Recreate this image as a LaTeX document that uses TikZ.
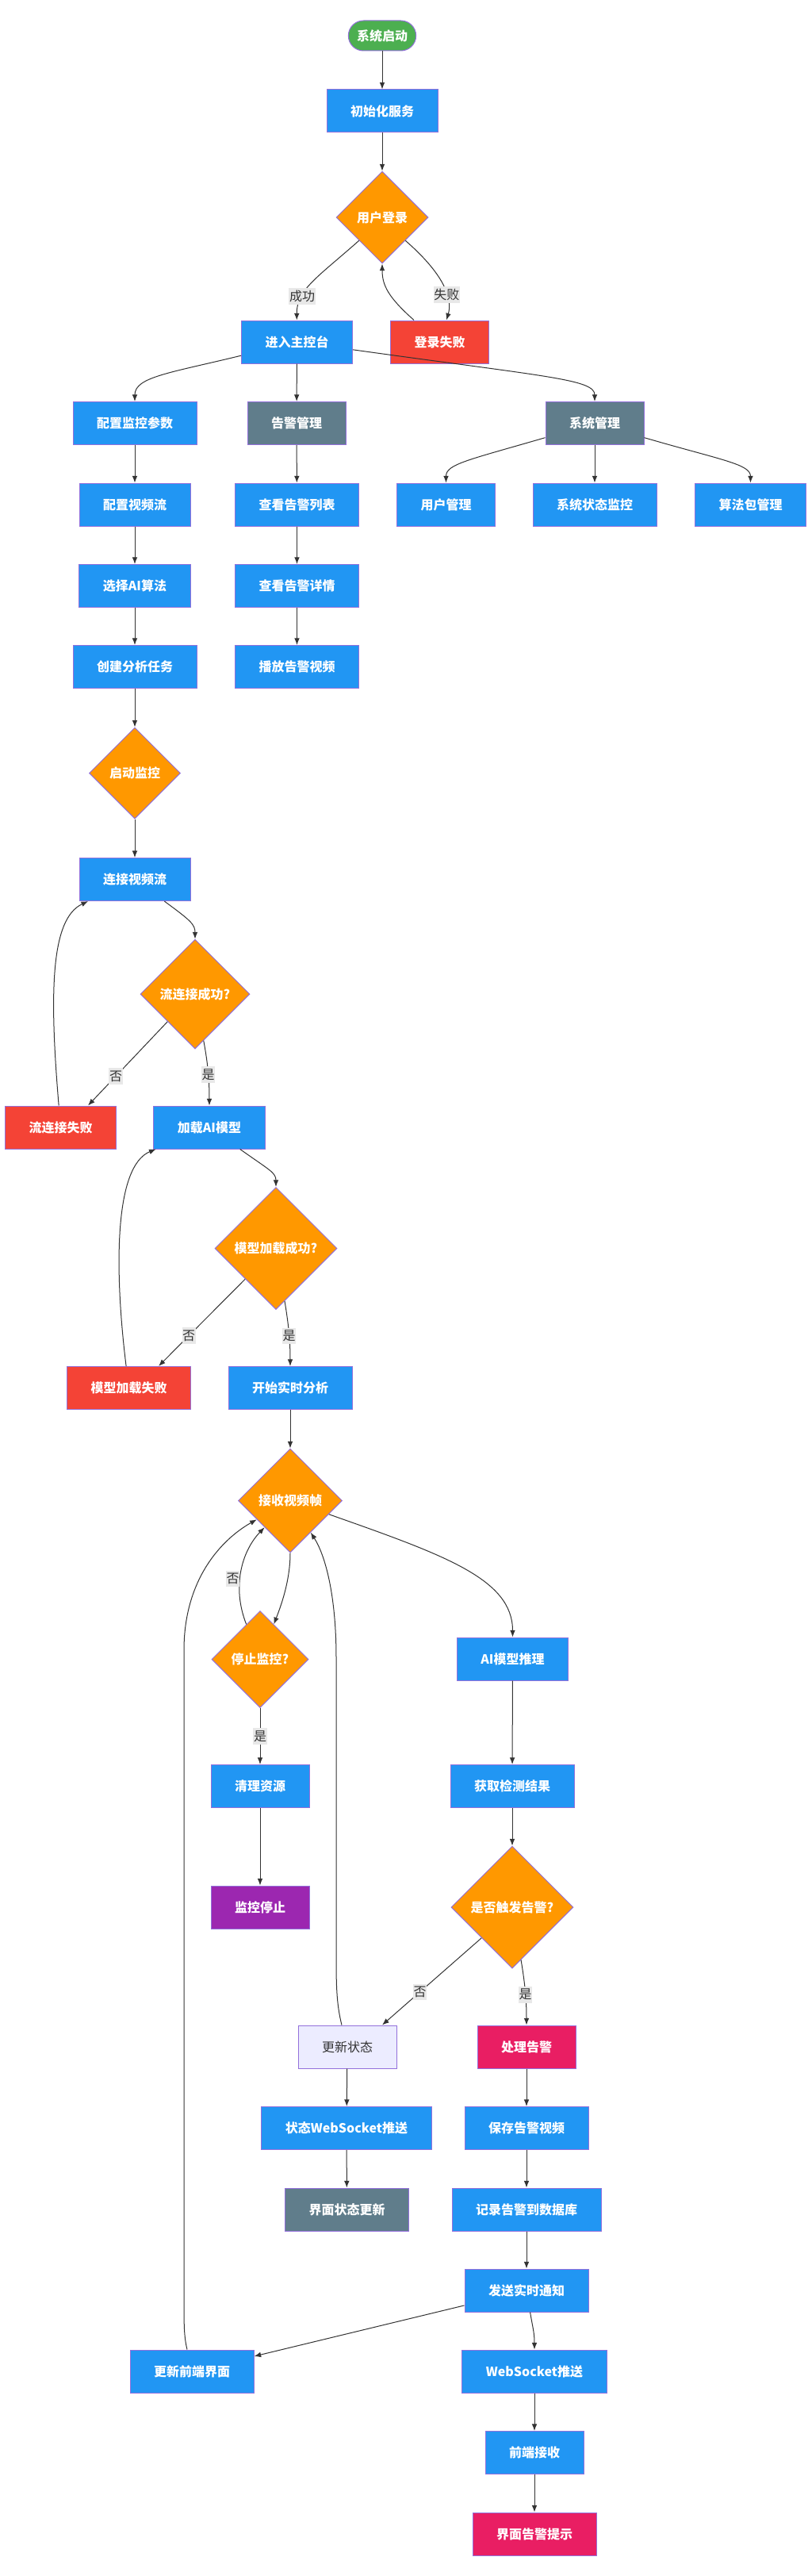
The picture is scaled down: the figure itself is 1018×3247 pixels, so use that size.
\documentclass[tikz,border=0pt]{standalone}
\usepackage{fontspec}
\setmainfont{Noto Sans CJK SC}
\usepackage{tikz}
\usetikzlibrary{calc}
\usetikzlibrary{shapes.geometric}
\usetikzlibrary{arrows.meta}

\definecolor{procblue}{HTML}{2196F3}
\definecolor{failred}{HTML}{F44336}
\definecolor{decorange}{HTML}{FF9800}
\definecolor{mgmtgray}{HTML}{607D8B}
\definecolor{startgreen}{HTML}{4CAF50}
\definecolor{stoppurple}{HTML}{9C27B0}
\definecolor{alertpink}{HTML}{E91E63}
\definecolor{statelav}{HTML}{ECECFF}
\definecolor{nodeborder}{HTML}{9370DB}
\definecolor{linkgray}{HTML}{333333}
\definecolor{labelbg}{HTML}{E8E8E8}

\tikzset{
    procbox/.style={rectangle, draw=nodeborder, line width=0.75pt, fill=procblue, text=white, minimum height=40.5pt, inner xsep=22.5pt, font=\fontsize{12pt}{14pt}\selectfont\bfseries},
    failbox/.style={procbox, fill=failred},
    mgmtbox/.style={procbox, fill=mgmtgray},
    alertbox/.style={procbox, fill=alertpink},
    stopbox/.style={procbox, fill=stoppurple},
    statebox/.style={procbox, fill=statelav, text=linkgray, font=\fontsize{12pt}{14pt}\selectfont},
    startbox/.style={procbox, fill=startgreen, rounded corners=14.25pt, minimum height=28.5pt, inner xsep=8pt},
    decision/.style={diamond, aspect=1, draw=nodeborder, line width=0.75pt, fill=decorange, text=white, inner sep=0pt, minimum size=#1, font=\fontsize{12pt}{14pt}\selectfont\bfseries},
    flow/.style={->, draw=linkgray, line width=0.75pt},
    edgelabel/.style={fill=labelbg, text=linkgray, inner xsep=0.5pt, inner ysep=2.5pt, font=\fontsize{12pt}{14pt}\selectfont},
}

\begin{document}
\begin{tikzpicture}[x=0.75pt, y=-0.75pt, >={Latex[length=6.5pt, width=5pt]}]
    \useasboundingbox (0,0) rectangle (1018,3247);

    % start and login
    \node [startbox] (start) at (482,45) {系统启动};
    \node [procbox] (init) at (482,140) {初始化服务};
    \node [decision=87pt] (login) at (482,274) {用户登录};
    \node [procbox] (main) at (374.5,431) {进入主控台};
    \node [failbox] (loginfail) at (554.5,431) {登录失败};

    % console branches
    \node [procbox] (cfgparam) at (170,533.5) {配置监控参数};
    \node [mgmtbox] (alarmmgmt) at (374,533.5) {告警管理};
    \node [mgmtbox] (sysmgmt) at (750,533.5) {系统管理};
    \node [procbox] (cfgstream) at (170,636) {配置视频流};
    \node [procbox] (alarmlist) at (374.5,636) {查看告警列表};
    \node [procbox] (usermgmt) at (562.5,636) {用户管理};
    \node [procbox] (sysstat) at (750,636) {系统状态监控};
    \node [procbox] (algpkg) at (946.5,636) {算法包管理};
    \node [procbox] (selalg) at (170,738.5) {选择AI算法};
    \node [procbox] (alarmdetail) at (374.5,738.5) {查看告警详情};
    \node [procbox] (createtask) at (170,840.5) {创建分析任务};
    \node [procbox] (playvideo) at (374.5,840.5) {播放告警视频};

    % monitoring start
    \node [decision=86.25pt] (startmon) at (170,974.5) {启动监控};
    \node [procbox] (connect) at (170,1108.5) {连接视频流};
    \node [decision=103.5pt] (streamok) at (246,1253) {流连接成功?};
    \node [failbox] (streamfail) at (76.5,1421) {流连接失败};
    \node [procbox] (loadmodel) at (264,1421) {加载AI模型};
    \node [decision=115.5pt] (modelok) at (348,1573.5) {模型加载成功?};
    \node [failbox] (modelfail) at (162.5,1749.5) {模型加载失败};
    \node [procbox] (startrt) at (366,1749.5) {开始实时分析};

    % analysis loop
    \node [decision=98.25pt] (recvframe) at (366,1891.5) {接收视频帧};
    \node [decision=91.5pt] (stopmon) at (328,2091.5) {停止监控?};
    \node [procbox] (aiinfer) at (646.5,2091) {AI模型推理};
    \node [procbox] (cleanup) at (328,2251.5) {清理资源};
    \node [procbox] (getresult) at (646,2251.5) {获取检测结果};
    \node [stopbox] (stopped) at (328,2404) {监控停止};
    \node [decision=115.5pt] (alerttrig) at (646,2404) {是否触发告警?};
    \node [statebox] (updstate) at (438,2580) {更新状态};
    \node [alertbox] (handle) at (664,2580) {处理告警};
    \node [procbox] (statews) at (437,2682.5) {状态WebSocket推送};
    \node [procbox] (savevideo) at (664,2682.5) {保存告警视频};
    \node [mgmtbox] (uistate) at (437.5,2785) {界面状态更新};
    \node [procbox] (recorddb) at (664,2785) {记录告警到数据库};
    \node [procbox] (notify) at (664,2887) {发送实时通知};
    \node [procbox] (updfront) at (242,2989) {更新前端界面};
    \node [procbox] (wspush) at (674,2989) {WebSocket推送};
    \node [procbox] (frontrecv) at (674,3091.5) {前端接收};
    \node [alertbox] (uialert) at (674,3194) {界面告警提示};

    % login flow
    \draw [flow] (start) -- (init);
    \draw [flow] (init) -- (login);
    \draw [flow] (login.south west) .. controls (400,350) and (374,365) .. (main) node[edgelabel, pos=0.7] {成功};
    \draw [flow] (login.south east) .. controls (565,350) and (570,380) .. ($(loginfail.north)+(8.5,0)$) node[edgelabel, pos=0.6] {失败};
    \draw [flow] ($(loginfail.north)+(-32.5,0)$) .. controls (490,375) and (482,360) .. (login.south);

    % console
    \draw [flow] (main) .. controls (215,470) and (170,475) .. (cfgparam);
    \draw [flow] (main) -- (alarmmgmt);
    \draw [flow] (main) .. controls (690,475) and (750,478) .. (sysmgmt);
    \draw [flow] (sysmgmt) .. controls (590,580) and (562.5,585) .. (usermgmt);
    \draw [flow] (sysmgmt) -- (sysstat);
    \draw [flow] (sysmgmt) .. controls (910,580) and (946.5,585) .. (algpkg);
    \draw [flow] (cfgparam) -- (cfgstream);
    \draw [flow] (cfgstream) -- (selalg);
    \draw [flow] (selalg) -- (createtask);
    \draw [flow] (createtask) -- (startmon);
    \draw [flow] (alarmmgmt) -- (alarmlist);
    \draw [flow] (alarmlist) -- (alarmdetail);
    \draw [flow] (alarmdetail) -- (playvideo);

    % stream and model checks
    \draw [flow] (startmon) -- (connect);
    \draw [flow] (connect) .. controls (240,1160) and (246,1165) .. (streamok);
    \draw [flow] (streamok.south west) -- ($(streamfail.north)+(34.5,0)$) node[edgelabel, pos=0.65] {否};
    \draw [flow] (streamok) .. controls (262,1340) and (264,1360) .. (loadmodel) node[edgelabel, pos=0.55] {是};
    \draw [flow] (streamfail) .. controls (62,1250) and (64,1158) .. (connect);
    \draw [flow] (loadmodel) .. controls (340,1475) and (348,1478) .. (modelok);
    \draw [flow] (modelok.south west) -- ($(modelfail.north)+(37.5,0)$) node[edgelabel, pos=0.65] {否};
    \draw [flow] (modelok) .. controls (364,1670) and (366,1690) .. (startrt) node[edgelabel, pos=0.55] {是};
    \draw [flow] (modelfail) .. controls (144,1600) and (144,1470) .. (loadmodel);
    \draw [flow] (startrt) -- (recvframe);

    % frame loop
    \draw [flow] (recvframe.south) .. controls (366,1990) and (356,2020) .. (stopmon);
    \draw [flow] (stopmon) .. controls (292,2000) and (305,1955) .. (recvframe) node[edgelabel, pos=0.42, anchor=east] {否};
    \draw [flow] (recvframe) .. controls (560,1960) and (646.5,1990) .. (aiinfer);
    \draw [flow] (stopmon) -- (cleanup) node[edgelabel, midway] {是};
    \draw [flow] (cleanup) -- (stopped);
    \draw [flow] (aiinfer) -- (getresult);
    \draw [flow] (getresult) -- (alerttrig);
    \draw [flow] (alerttrig.south west) -- ($(updstate.north)+(44,0)$) node[edgelabel, pos=0.62] {否};
    \draw [flow] (alerttrig) .. controls (662,2500) and (664,2520) .. (handle) node[edgelabel, pos=0.55] {是};
    \draw [flow] (updstate) -- (statews);
    \draw [flow] (statews) -- (uistate);
    \draw [flow] ($(updstate.north)+(-7,0)$) .. controls (424,2525) and (424,2500) .. (424,2460) -- (424,2090) .. controls (424,2010) and (410,1960) .. (recvframe);

    % alert handling
    \draw [flow] (handle) -- (savevideo);
    \draw [flow] (savevideo) -- (recorddb);
    \draw [flow] (recorddb) -- (notify);
    \draw [flow] (notify) -- (updfront);
    \draw [flow] (notify) .. controls (672,2935) and (674,2940) .. (wspush);
    \draw [flow] (wspush) -- (frontrecv);
    \draw [flow] (frontrecv) -- (uialert);
    \draw [flow] ($(updfront.north)+(-6,0)$) .. controls (232,2945) and (232,2930) .. (232,2900) -- (232,2080) .. controls (232,1990) and (280,1940) .. (recvframe);
\end{tikzpicture}
\end{document}
